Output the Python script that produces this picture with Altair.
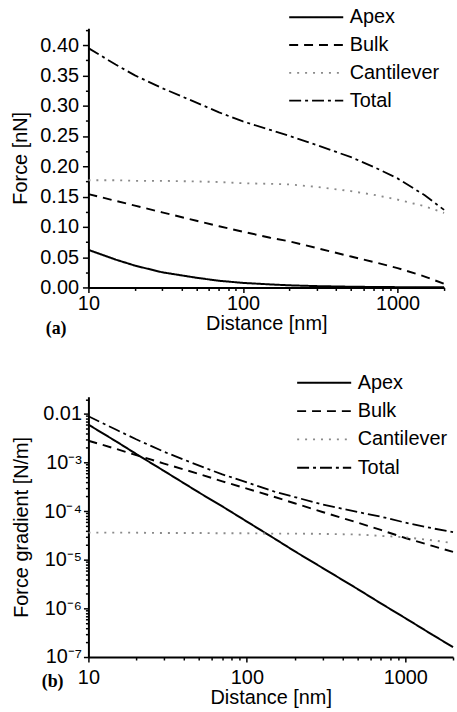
import altair as alt
import pandas as pd

# ---------------- data ----------------
distance = [10, 15, 20, 30, 50, 70, 100, 150, 200, 300, 500, 700, 1000, 1500, 2000]
series_names = ["Apex", "Bulk", "Cantilever", "Total"]

force_apex = [0.062, 0.046, 0.036, 0.025, 0.016, 0.011, 0.0075, 0.005, 0.0035, 0.0022, 0.0012, 0.0008, 0.0005, 0.0003, 0.0002]
force_bulk = [0.154, 0.143, 0.135, 0.124, 0.110, 0.101, 0.092, 0.082, 0.076, 0.065, 0.051, 0.042, 0.032, 0.018, 0.006]
force_cant = [0.177, 0.177, 0.176, 0.176, 0.175, 0.174, 0.172, 0.171, 0.170, 0.166, 0.159, 0.153, 0.145, 0.134, 0.123]
force_total = [0.395, 0.368, 0.350, 0.329, 0.305, 0.289, 0.274, 0.260, 0.250, 0.235, 0.215, 0.199, 0.180, 0.152, 0.128]

grad_apex = [6.0e-3, 2.7e-3, 1.5e-3, 6.7e-4, 2.4e-4, 1.25e-4, 6.1e-5, 2.7e-5, 1.5e-5, 6.8e-6, 2.5e-6, 1.27e-6, 6.3e-7, 2.8e-7, 1.6e-7]
grad_bulk = [2.8e-3, 1.9e-3, 1.42e-3, 9.5e-4, 5.8e-4, 4.1e-4, 2.9e-4, 1.95e-4, 1.45e-4, 9.6e-5, 5.8e-5, 4.1e-5, 2.8e-5, 1.9e-5, 1.45e-5]
grad_cant = [3.6e-5, 3.6e-5, 3.6e-5, 3.55e-5, 3.55e-5, 3.5e-5, 3.5e-5, 3.45e-5, 3.45e-5, 3.4e-5, 3.3e-5, 3.1e-5, 2.9e-5, 2.5e-5, 2.2e-5]
grad_total = [8.9e-3, 4.7e-3, 3.0e-3, 1.66e-3, 8.6e-4, 5.7e-4, 3.9e-4, 2.5e-4, 1.95e-4, 1.37e-4, 9.6e-5, 7.7e-5, 5.8e-5, 4.4e-5, 3.7e-5]

# tick values / labels
x_major = [10, 100, 1000]
x_minor = [20, 30, 40, 50, 60, 70, 80, 90, 200, 300, 400, 500, 600, 700, 800, 900, 2000]
force_major = [0.00, 0.05, 0.10, 0.15, 0.20, 0.25, 0.30, 0.35, 0.40]
force_minor = [0.025, 0.075, 0.125, 0.175, 0.225, 0.275, 0.325, 0.375, 0.425]
grad_major = [1e-2, 1e-3, 1e-4, 1e-5, 1e-6, 1e-7]
grad_major_labels = ["0.01", "10\u207b\u00b3", "10\u207b\u2074", "10\u207b\u2075", "10\u207b\u2076", "10\u207b\u2077"]
grad_minor = [k * 10.0 ** e for e in range(-7, -2) for k in range(2, 10)] + [0.02]


def long_df(cols):
    rows = []
    for name, vals in zip(series_names, cols):
        for d, v in zip(distance, vals):
            rows.append({"distance": d, "value": v, "series": name})
    return pd.DataFrame(rows)


df_a = long_df([force_apex, force_bulk, force_cant, force_total])
df_b = long_df([grad_apex, grad_bulk, grad_cant, grad_total])

FONT = "Liberation Sans"
log_major = "abs(log(datum.value)/LN10 - round(log(datum.value)/LN10)) < 0.01"
lin_major = "abs(datum.value*20 - round(datum.value*20)) < 0.01"

grad_label_expr = " : ".join(
    f"abs(datum.value - {v}) < {v * 0.01} ? '{lab}'" for v, lab in zip(grad_major, grad_major_labels)
) + " : ''"

color_scale = alt.Scale(domain=series_names, range=["black", "black", "#8a8a8a", "black"])
dash_scale = alt.Scale(domain=series_names, range=[[1, 0], [9, 6], [2, 6], [12, 4, 3, 4]])
width_scale = alt.Scale(domain=series_names, range=[2.0, 1.8, 1.6, 2.4])


def make_legend(lx, ly, row_pad):
    return alt.Legend(
        title=None, orient="none", legendX=lx, legendY=ly,
        symbolType="M-5.4,0H1", symbolSize=289, symbolStrokeWidth=2,
        labelFontSize=20, labelFont=FONT, labelColor="black",
        labelOffset=5, rowPadding=row_pad, padding=0,
    )


def x_axis(label_pad, title_pad):
    return alt.Axis(
        values=sorted(x_major + x_minor),
        labelExpr=f"{log_major} ? format(datum.value, 'd') : ''",
        title="Distance [nm]",
        tickSize={"condition": {"test": log_major, "value": 5}, "value": 3},
        labelPadding=label_pad, titlePadding=title_pad, labelOverlap=False, labelFlush=False,
    )


leg_a = make_legend(238, -21, 8)
panel_a = alt.Chart(df_a).mark_line().encode(
    x=alt.X("distance:Q", scale=alt.Scale(type="log", domain=[10, 2000], nice=False), axis=x_axis(1, 0)),
    y=alt.Y("value:Q", scale=alt.Scale(domain=[0, 0.428], nice=False, zero=False),
            axis=alt.Axis(values=force_major + force_minor,
                          labelExpr=f"{lin_major} ? format(datum.value, '.2f') : ''",
                          title="Force [nN]",
                          tickSize={"condition": {"test": lin_major, "value": 6}, "value": 3},
                          labelPadding=4, titlePadding=9, labelOverlap=False, labelFlush=False)),
    color=alt.Color("series:N", scale=color_scale, legend=leg_a),
    strokeDash=alt.StrokeDash("series:N", scale=dash_scale, legend=leg_a),
    strokeWidth=alt.StrokeWidth("series:N", scale=width_scale, legend=None),
).properties(
    width=358, height=261,
    title=alt.TitleParams("(a)", orient="bottom", anchor="start", frame="group", dx=-43, offset=-13,
                          font="Liberation Serif", fontWeight="bold", fontSize=18, color="black"),
)

leg_b = make_legend(246, -24, 8.5)
panel_b = alt.Chart(df_b).mark_line().encode(
    x=alt.X("distance:Q", scale=alt.Scale(type="log", domain=[10, 2000], nice=False), axis=x_axis(6, 0)),
    y=alt.Y("value:Q", scale=alt.Scale(type="log", domain=[1e-7, 0.0225], nice=False),
            axis=alt.Axis(values=grad_major + grad_minor,
                          labelExpr=grad_label_expr,
                          title="Force gradient [N/m]",
                          tickSize={"condition": {"test": log_major, "value": 5}, "value": 3},
                          labelPadding=2, titlePadding=11, labelOverlap=False, labelFlush=False)),
    color=alt.Color("series:N", scale=color_scale, legend=leg_b),
    strokeDash=alt.StrokeDash("series:N", scale=dash_scale, legend=leg_b),
    strokeWidth=alt.StrokeWidth("series:N", scale=width_scale, legend=None),
).properties(
    width=367, height=262,
    title=alt.TitleParams("(b)", orient="bottom", anchor="start", frame="group", dx=-47, offset=-35,
                          font="Liberation Serif", fontWeight="bold", fontSize=18, color="black"),
)

chart = alt.vconcat(panel_a, panel_b, spacing=35).resolve_scale(
    color="independent", strokeDash="independent", strokeWidth="independent"
).resolve_legend(
    color="independent", strokeDash="independent"
).configure_view(stroke=None).configure_axis(
    labelFont=FONT, titleFont=FONT, labelFontSize=20, titleFontSize=20, titleFontWeight="normal",
    labelColor="black", titleColor="black", domainColor="black", domainWidth=2,
    tickColor="black", tickWidth=1.5, grid=False,
).properties(padding={"left": 11, "top": 5, "right": 0, "bottom": 0}, background="white")

chart.save("out.html", embed_options={"renderer": "svg", "actions": False})
